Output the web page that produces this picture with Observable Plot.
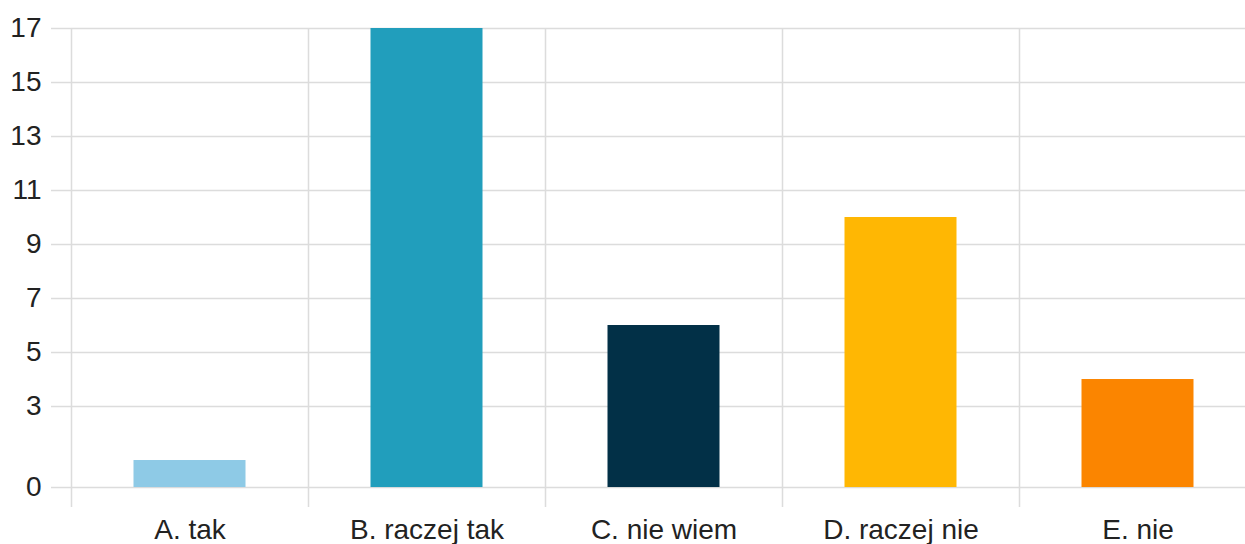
<!DOCTYPE html>
<html>
<head>
<meta charset="utf-8">
<script src="https://cdn.jsdelivr.net/npm/d3@7"></script>
<script src="https://cdn.jsdelivr.net/npm/@observablehq/plot@0.6"></script>
<style>
  html, body { margin: 0; padding: 0; background: #fff; overflow: hidden; }
  svg { overflow: hidden; }
</style>
</head>
<body>
<div id="chart"></div>
<script>
const categories = ["A. tak", "B. raczej tak", "C. nie wiem", "D. raczej nie", "E. nie"];
const counts = [1, 17, 6, 10, 4];
const colors = ["#8ecae6", "#219ebc", "#023047", "#ffb703", "#fb8500"];
const yTicks = [0, 3, 5, 7, 9, 11, 13, 15, 17];

const data = categories.map((c, i) => ({category: c, count: counts[i], color: colors[i]}));

const width = 1245, height = 544;
const marginLeft = 71, marginRight = -11, marginTop = 28, marginBottom = 37;
const bandwidth = (width - marginRight - marginLeft) / categories.length;
const barWidth = 112;
const inset = (bandwidth - barWidth) / 2;

const chart = Plot.plot({
  width, height,
  marginLeft, marginRight, marginTop, marginBottom,
  style: {fontFamily: "'Liberation Sans', Arial, sans-serif", fontSize: "28px", color: "#222", background: "#fff"},
  x: {domain: categories, padding: 0, label: null},
  y: {domain: [-0.74, 17], label: null},
  marks: [
    Plot.gridY(yTicks, {stroke: "#dcdcdc", strokeOpacity: 1, strokeWidth: 1.5}),
    Plot.axisY({ticks: yTicks, tickSize: 20, tickPadding: 10, stroke: "#dcdcdc", strokeWidth: 1.5, label: null, fontSize: 28}),
    Plot.ruleX(categories, {x: d => d, dx: -bandwidth / 2, stroke: "#dcdcdc", strokeWidth: 1.5}),
    Plot.axisX({tickSize: 0, tickPadding: 12, label: null, fontSize: 28}),
    Plot.barY(data, {x: "category", y: "count", fill: "color", insetLeft: inset, insetRight: inset})
  ]
});
document.getElementById("chart").appendChild(chart);
</script>
</body>
</html>
